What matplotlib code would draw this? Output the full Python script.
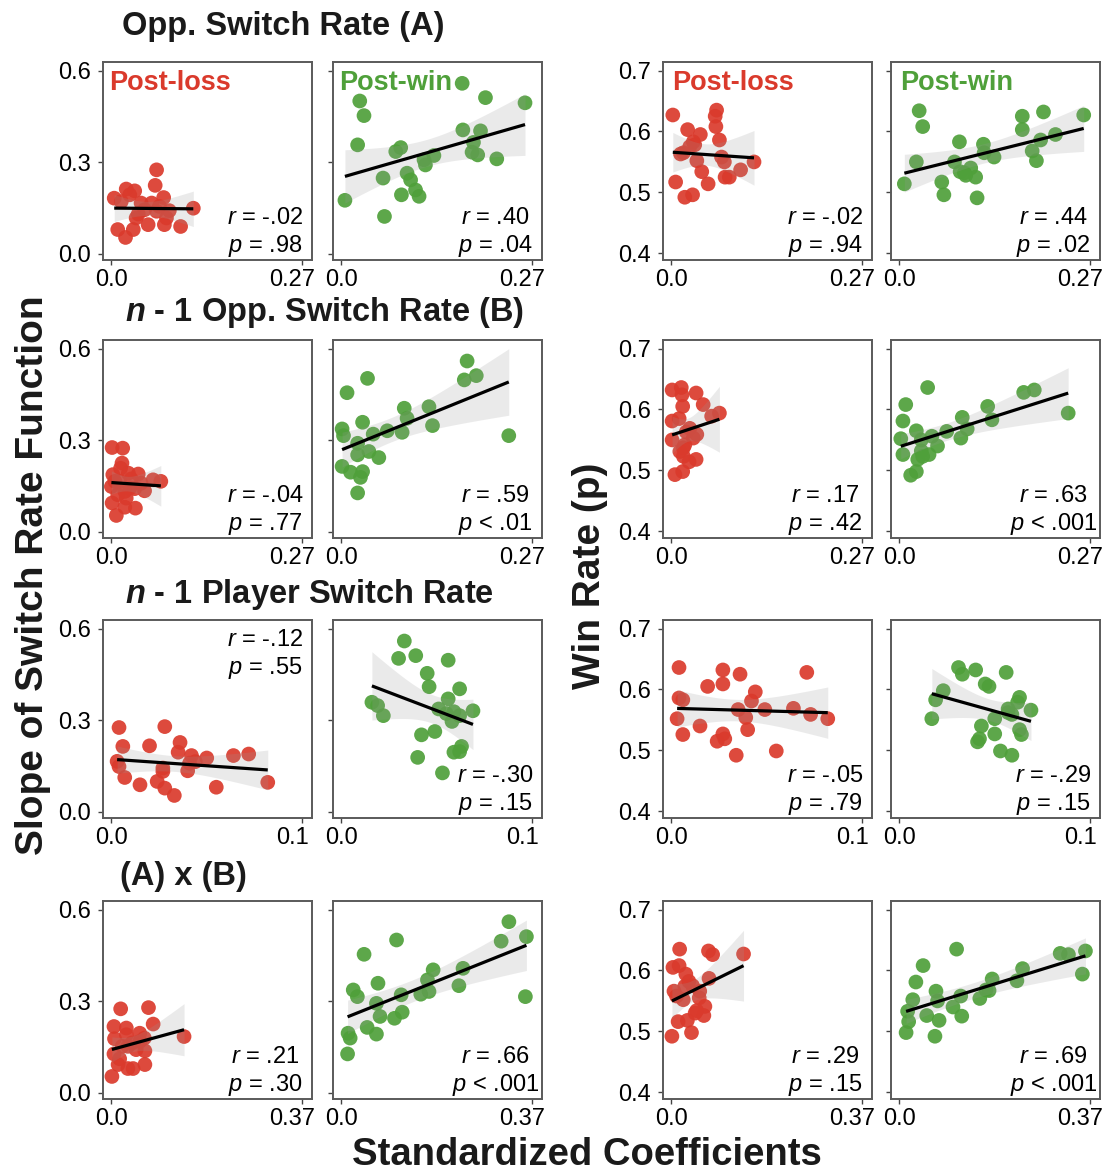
import numpy as np
import matplotlib
matplotlib.use("Agg")
import matplotlib.pyplot as plt
from matplotlib import transforms as mtransforms

plt.rcParams['font.family'] = ['Liberation Sans', 'DejaVu Sans']
plt.rcParams['mathtext.fontset'] = 'custom'
plt.rcParams['mathtext.rm'] = 'Liberation Sans'
plt.rcParams['mathtext.it'] = 'Liberation Sans:italic'
plt.rcParams['mathtext.bf'] = 'Liberation Sans:bold'
plt.rcParams['mathtext.bfit'] = 'Liberation Sans:italic:bold'

RED = '#DA3A2C'
GREEN = '#4FA03A'

# ---------------- data ----------------
row_titles = ["Opp. Switch Rate (A)", r"$\mathbfit{n}$ - 1 Opp. Switch Rate (B)",
              r"$\mathbfit{n}$ - 1 Player Switch Rate", "(A) x (B)"]
x_max = [0.27, 0.27, 0.1, 0.37]
x_tick_labels = [["0.0", "0.27"], ["0.0", "0.27"], ["0.0", "0.1"], ["0.0", "0.37"]]
slope_ticks = [0.0, 0.3, 0.6]
slope_tick_labels = ["0.0", "0.3", "0.6"]
wr_ticks = [0.4, 0.5, 0.6, 0.7]
wr_tick_labels = ["0.4", "0.5", "0.6", "0.7"]
condition_labels = ["Post-loss", "Post-win", "Post-loss", "Post-win"]

r_labels = [["-.02", ".40", "-.02", ".44"],
            ["-.04", ".59", ".17", ".63"],
            ["-.12", "-.30", "-.05", "-.29"],
            [".21", ".66", ".29", ".69"]]
p_labels = [["= .98", "= .04", "= .94", "= .02"],
            ["= .77", "< .01", "= .42", "< .001"],
            ["= .55", "= .15", "= .79", "= .15"],
            ["= .30", "< .001", "= .15", "< .001"]]

# Row 1: Opp. switch rate (A)
r1_loss_slope_x = [0.064, 0.062, 0.004, 0.021, 0.033, 0.026, 0.042, 0.074, 0.068, 0.064, 0.082, 0.038,
                   0.047, 0.116, 0.009, 0.020, 0.031, 0.052, 0.075, 0.078, 0.098, 0.014, 0.057, 0.035]
r1_loss_slope_y = [0.275, 0.224, 0.182, 0.212, 0.206, 0.193, 0.166, 0.184, 0.155, 0.139, 0.141, 0.130,
                   0.144, 0.149, 0.079, 0.053, 0.079, 0.095, 0.095, 0.117, 0.089, 0.171, 0.166, 0.117]
r1_win_slope_x = [0.171, 0.026, 0.032, 0.204, 0.260, 0.023, 0.172, 0.197, 0.187, 0.185, 0.193, 0.220, 0.077,
                  0.084, 0.131, 0.117, 0.119, 0.059, 0.093, 0.098, 0.105, 0.110, 0.085, 0.005, 0.061]
r1_win_slope_y = [0.559, 0.501, 0.453, 0.512, 0.495, 0.357, 0.406, 0.403, 0.365, 0.333, 0.324, 0.311, 0.335,
                  0.348, 0.322, 0.308, 0.291, 0.248, 0.264, 0.242, 0.209, 0.188, 0.193, 0.175, 0.122]
r1_loss_wr_x = [0.002, 0.064, 0.062, 0.063, 0.023, 0.041, 0.068, 0.031, 0.026, 0.017, 0.036, 0.071,
                0.075, 0.098, 0.117, 0.043, 0.076, 0.082, 0.006, 0.052, 0.019, 0.030, 0.013, 0.033]
r1_loss_wr_y = [0.627, 0.635, 0.625, 0.608, 0.603, 0.595, 0.586, 0.583, 0.575, 0.565, 0.552, 0.558,
                0.550, 0.537, 0.550, 0.534, 0.525, 0.525, 0.517, 0.514, 0.492, 0.496, 0.563, 0.578]
r1_win_wr_x = [0.028, 0.033, 0.174, 0.204, 0.261, 0.174, 0.221, 0.200, 0.085, 0.119, 0.120, 0.134, 0.188,
               0.194, 0.024, 0.078, 0.086, 0.094, 0.101, 0.108, 0.060, 0.007, 0.063, 0.110, 0.092]
r1_win_wr_y = [0.634, 0.608, 0.625, 0.632, 0.627, 0.603, 0.595, 0.586, 0.583, 0.579, 0.565, 0.558, 0.568,
               0.552, 0.550, 0.550, 0.534, 0.528, 0.540, 0.525, 0.517, 0.514, 0.496, 0.491, 0.532]

# Row 2: n-1 opp. switch rate (B)
r2_loss_slope_x = [0.001, 0.016, 0.015, 0.013, 0.002, 0.024, 0.038, 0.012, 0.028, 0.000, 0.033, 0.047,
                   0.059, 0.070, 0.019, 0.009, 0.021, 0.001, 0.019, 0.034, 0.007, 0.026, 0.042, 0.005]
r2_loss_slope_y = [0.276, 0.274, 0.225, 0.208, 0.187, 0.192, 0.189, 0.165, 0.173, 0.148, 0.141, 0.134,
                   0.170, 0.165, 0.132, 0.121, 0.110, 0.094, 0.080, 0.077, 0.053, 0.143, 0.159, 0.165]
r2_win_slope_x = [0.178, 0.174, 0.191, 0.037, 0.008, 0.089, 0.124, 0.093, 0.129, 0.030, 0.001, 0.003, 0.045,
                  0.065, 0.086, 0.237, 0.023, 0.039, 0.023, 0.053, 0.001, 0.013, 0.030, 0.027, 0.023]
r2_win_slope_y = [0.560, 0.498, 0.512, 0.503, 0.456, 0.405, 0.410, 0.372, 0.348, 0.359, 0.337, 0.315, 0.320,
                  0.331, 0.326, 0.315, 0.290, 0.263, 0.252, 0.243, 0.214, 0.195, 0.197, 0.178, 0.127]
r2_loss_wr_x = [0.001, 0.014, 0.015, 0.035, 0.016, 0.045, 0.001, 0.011, 0.057, 0.068, 0.026, 0.036,
                0.031, 0.001, 0.017, 0.012, 0.019, 0.017, 0.025, 0.035, 0.005, 0.016, 0.021]
r2_loss_wr_y = [0.632, 0.636, 0.624, 0.627, 0.605, 0.608, 0.581, 0.585, 0.589, 0.594, 0.569, 0.559,
                0.553, 0.550, 0.537, 0.531, 0.542, 0.523, 0.514, 0.518, 0.493, 0.498, 0.563]
r2_win_wr_x = [0.040, 0.009, 0.176, 0.191, 0.239, 0.125, 0.131, 0.089, 0.096, 0.067, 0.087, 0.005,
               0.024, 0.002, 0.046, 0.054, 0.005, 0.031, 0.042, 0.026, 0.031, 0.016, 0.024, 0.033]
r2_win_wr_y = [0.636, 0.608, 0.628, 0.632, 0.594, 0.605, 0.583, 0.587, 0.568, 0.564, 0.553, 0.581,
               0.565, 0.552, 0.556, 0.540, 0.526, 0.532, 0.526, 0.518, 0.550, 0.492, 0.498, 0.523]

# Row 3: n-1 player switch rate
r3_loss_slope_x = [0.004, 0.028, 0.006, 0.020, 0.036, 0.035, 0.003, 0.004, 0.042, 0.050, 0.064, 0.072,
                   0.027, 0.040, 0.041, 0.007, 0.015, 0.024, 0.028, 0.033, 0.055, 0.082, 0.027, 0.044]
r3_loss_slope_y = [0.276, 0.279, 0.214, 0.216, 0.227, 0.195, 0.165, 0.148, 0.184, 0.176, 0.184, 0.189,
                   0.143, 0.134, 0.159, 0.112, 0.088, 0.099, 0.077, 0.053, 0.080, 0.096, 0.132, 0.164]
r3_win_slope_x = [0.033, 0.030, 0.039, 0.056, 0.045, 0.046, 0.062, 0.056, 0.016, 0.019, 0.022, 0.051,
                  0.059, 0.062, 0.069, 0.058, 0.042, 0.049, 0.063, 0.059, 0.062, 0.040, 0.053, 0.055]
r3_win_slope_y = [0.560, 0.503, 0.512, 0.497, 0.454, 0.410, 0.403, 0.370, 0.359, 0.348, 0.315, 0.337,
                  0.328, 0.315, 0.331, 0.296, 0.252, 0.263, 0.214, 0.195, 0.197, 0.178, 0.127, 0.322]
r3_loss_wr_x = [0.004, 0.027, 0.036, 0.071, 0.019, 0.027, 0.044, 0.004, 0.006, 0.042, 0.035, 0.049, 0.064,
                0.039, 0.073, 0.082, 0.003, 0.015, 0.040, 0.006, 0.027, 0.024, 0.028, 0.034, 0.055]
r3_loss_wr_y = [0.636, 0.632, 0.625, 0.628, 0.605, 0.609, 0.596, 0.586, 0.583, 0.581, 0.567, 0.567, 0.569,
                0.554, 0.559, 0.552, 0.552, 0.540, 0.534, 0.526, 0.527, 0.515, 0.519, 0.492, 0.499]
r3_win_wr_x = [0.031, 0.033, 0.040, 0.056, 0.045, 0.047, 0.023, 0.019, 0.017, 0.063, 0.062, 0.057,
               0.069, 0.059, 0.050, 0.043, 0.050, 0.042, 0.041, 0.063, 0.064, 0.053, 0.059, 0.057]
r3_win_wr_y = [0.636, 0.625, 0.632, 0.628, 0.609, 0.605, 0.598, 0.583, 0.552, 0.587, 0.579, 0.568,
               0.566, 0.559, 0.552, 0.540, 0.527, 0.519, 0.514, 0.534, 0.526, 0.499, 0.492, 0.562]

# Row 4: (A) x (B)
r4_loss_slope_x = [0.018, 0.072, 0.081, 0.005, 0.029, 0.029, 0.055, 0.006, 0.064, 0.141, 0.040, 0.021,
                   0.048, 0.065, 0.005, 0.016, 0.013, 0.065, 0.032, 0.042, 0.001, 0.055, 0.032]
r4_loss_slope_y = [0.275, 0.279, 0.225, 0.217, 0.212, 0.190, 0.195, 0.177, 0.179, 0.184, 0.163, 0.152,
                   0.141, 0.137, 0.127, 0.111, 0.092, 0.092, 0.079, 0.079, 0.053, 0.168, 0.152]
r4_win_slope_x = [0.325, 0.359, 0.310, 0.107, 0.044, 0.236, 0.178, 0.167, 0.228, 0.170, 0.154, 0.071, 0.023,
                  0.031, 0.116, 0.068, 0.357, 0.118, 0.103, 0.075, 0.050, 0.068, 0.013, 0.017, 0.012]
r4_win_slope_y = [0.561, 0.512, 0.497, 0.501, 0.454, 0.408, 0.403, 0.370, 0.351, 0.332, 0.323, 0.359, 0.337,
                  0.315, 0.321, 0.293, 0.315, 0.264, 0.244, 0.250, 0.214, 0.192, 0.195, 0.179, 0.127]
r4_loss_wr_x = [0.016, 0.072, 0.080, 0.140, 0.003, 0.015, 0.028, 0.034, 0.073, 0.041, 0.005, 0.055,
                0.010, 0.023, 0.054, 0.065, 0.049, 0.063, 0.013, 0.031, 0.001, 0.039, 0.046, 0.026]
r4_loss_wr_y = [0.635, 0.632, 0.626, 0.627, 0.605, 0.608, 0.594, 0.582, 0.587, 0.575, 0.566, 0.566,
                0.558, 0.552, 0.555, 0.541, 0.534, 0.526, 0.516, 0.518, 0.492, 0.498, 0.530, 0.574]
r4_win_wr_x = [0.111, 0.046, 0.312, 0.328, 0.361, 0.355, 0.239, 0.180, 0.228, 0.174, 0.032, 0.071, 0.119,
               0.156, 0.026, 0.074, 0.104, 0.016, 0.053, 0.121, 0.077, 0.018, 0.013, 0.069, 0.168]
r4_win_wr_y = [0.635, 0.608, 0.628, 0.626, 0.632, 0.594, 0.603, 0.586, 0.583, 0.567, 0.581, 0.566, 0.558,
               0.554, 0.552, 0.550, 0.540, 0.533, 0.526, 0.525, 0.518, 0.516, 0.498, 0.492, 0.568]

panel_data = [
    [(r1_loss_slope_x, r1_loss_slope_y), (r1_win_slope_x, r1_win_slope_y),
     (r1_loss_wr_x, r1_loss_wr_y), (r1_win_wr_x, r1_win_wr_y)],
    [(r2_loss_slope_x, r2_loss_slope_y), (r2_win_slope_x, r2_win_slope_y),
     (r2_loss_wr_x, r2_loss_wr_y), (r2_win_wr_x, r2_win_wr_y)],
    [(r3_loss_slope_x, r3_loss_slope_y), (r3_win_slope_x, r3_win_slope_y),
     (r3_loss_wr_x, r3_loss_wr_y), (r3_win_wr_x, r3_win_wr_y)],
    [(r4_loss_slope_x, r4_loss_slope_y), (r4_win_slope_x, r4_win_slope_y),
     (r4_loss_wr_x, r4_loss_wr_y), (r4_win_wr_x, r4_win_wr_y)],
]
col_colors = [RED, GREEN, RED, GREEN]


def fit_band(x, y, t=2.07, n_grid=80):
    x = np.asarray(x, float)
    y = np.asarray(y, float)
    b, a = np.polyfit(x, y, 1)
    xs = np.linspace(x.min(), x.max(), n_grid)
    yh = a + b * xs
    resid = y - (a + b * x)
    n = len(x)
    s = np.sqrt(np.sum(resid ** 2) / (n - 2))
    sxx = np.sum((x - x.mean()) ** 2)
    se = s * np.sqrt(1.0 / n + (xs - x.mean()) ** 2 / sxx)
    return xs, yh, yh - t * se, yh + t * se


# ---------------- layout ----------------
W, H = 1111, 1173
fig = plt.figure(figsize=(W / 100, H / 100), dpi=100)
fig.patch.set_facecolor('white')

col_left = [103, 333, 663, 891]
row_top = [62, 340, 620, 901]
pw, ph = 209, 198
SPINE = '#5a5a5a'

for ri in range(4):
    xm = x_max[ri]
    for ci in range(4):
        ax = fig.add_axes([col_left[ci] / W, 1 - (row_top[ri] + ph) / H, pw / W, ph / H])
        x, y = panel_data[ri][ci]
        ax.scatter(x, y, s=112, color=col_colors[ci], edgecolors='none', alpha=0.92, zorder=2)
        xs, yh, lo, hi = fit_band(x, y)
        ax.fill_between(xs, lo, hi, color='#999999', alpha=0.2, linewidth=0, zorder=3)
        ax.plot(xs, yh, color='black', lw=2.3, zorder=4, solid_capstyle='butt')

        ax.set_xlim(-0.044 * xm, 1.052 * xm)
        ax.set_xticks([0, xm])
        ax.set_xticklabels(x_tick_labels[ri])
        if ci < 2:
            ax.set_ylim(-0.021, 0.629)
            ax.set_yticks(slope_ticks)
            ax.set_yticklabels(slope_tick_labels if ci == 0 else [])
        else:
            ax.set_ylim(0.389, 0.714)
            ax.set_yticks(wr_ticks)
            ax.set_yticklabels(wr_tick_labels if ci == 2 else [])
        ax.tick_params(axis='both', direction='out', length=3.5, width=1.0, color='#444444',
                       labelsize=17, labelcolor='black')
        ax.tick_params(axis='y', pad=5)
        ax.tick_params(axis='x', pad=3)
        for sp in ax.spines.values():
            sp.set_color(SPINE)
            sp.set_linewidth(1.4)
        # shift right tick label slightly left as in reference
        lab = ax.xaxis.get_major_ticks()[1].label1
        lab.set_transform(lab.get_transform() +
                          mtransforms.ScaledTranslation(-10 / 100, 0, fig.dpi_scale_trans))

        # stats text
        trans = mtransforms.blended_transform_factory(ax.transData, ax.transAxes)
        if ri == 2 and ci == 0:
            yr, yp = 0.87, 0.726
        else:
            yr, yp = 0.18, 0.04
        ax.text(0.808 * xm, yr, "$r$ = " + r_labels[ri][ci], transform=trans, ha='center',
                va='baseline', fontsize=17, zorder=6)
        ax.text(0.808 * xm, yp, "$p$ " + p_labels[ri][ci], transform=trans, ha='center',
                va='baseline', fontsize=17, zorder=6)

        if ri == 0:
            xpos = 0.03 if ci < 2 else 0.045
            ax.text(xpos, 0.86, condition_labels[ci], transform=ax.transAxes, ha='left',
                    va='baseline', fontsize=19.5, fontweight='bold', color=col_colors[ci], zorder=6)

# row titles
title_pos = [(122, 27), (125, 312), (125, 595), (120, 877)]
for ri, (tx, ty) in enumerate(title_pos):
    fig.text(tx / W, 1 - ty / H, row_titles[ri], ha='left', va='center', fontsize=23.5,
             fontweight='bold', color='#1a1a1a')

# axis labels
fig.text(33 / W, 1 - 575 / H, "Slope of Switch Rate Function", rotation=90, ha='center',
         va='center', fontsize=28, fontweight='bold', color='#1a1a1a')
fig.text(590 / W, 1 - 576 / H, "Win Rate (p)", rotation=90, ha='center', va='center',
         fontsize=28, fontweight='bold', color='#1a1a1a')
fig.text(587 / W, 1 - 1155 / H, "Standardized Coefficients", ha='center', va='center',
         fontsize=27.5, fontweight='bold', color='#1a1a1a')

fig.savefig("out.png", dpi=100)
